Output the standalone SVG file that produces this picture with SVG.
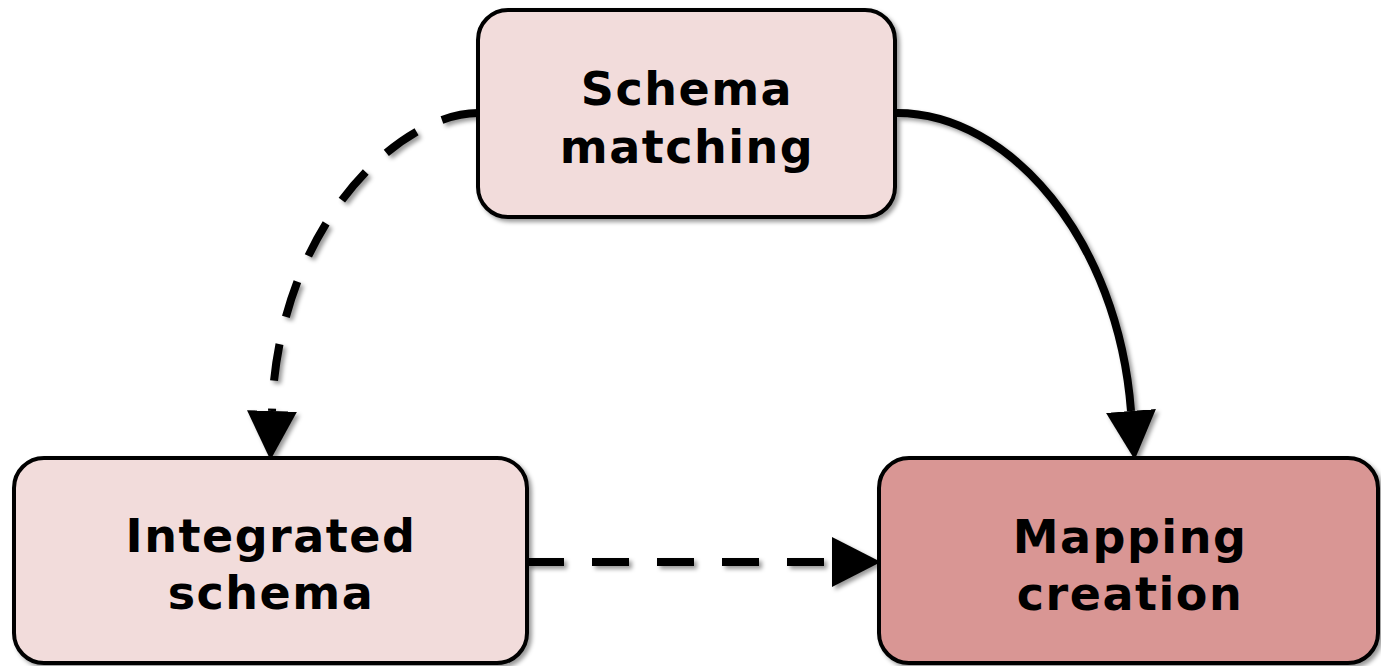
<svg xmlns="http://www.w3.org/2000/svg" width="1381" height="666" viewBox="0 0 1381 666">
  <defs>
    <filter id="shadow" x="-10%" y="-10%" width="130%" height="130%">
      <feDropShadow dx="3" dy="3" stdDeviation="2" flood-color="#000" flood-opacity="0.4"/>
    </filter>
    <!-- arrowhead: base sits on the path end, tip extends 45px beyond -->
    <marker id="head" markerUnits="userSpaceOnUse" markerWidth="50" markerHeight="50" refX="0" refY="23" orient="auto" viewBox="0 0 46 46">
      <path d="M0,0 L45,23 L0,46 Z" fill="#000"/>
    </marker>
    <style>
      .box { stroke: #000; stroke-width: 4; }
      .light { fill: #f2dcdb; }
      .dark { fill: #d99694; }
      .label { font-family: "DejaVu Sans", Verdana, sans-serif; font-weight: bold; font-size: 46px; letter-spacing: 1.5px; fill: #000; text-anchor: middle; }
      .edge { fill: none; stroke: #000; stroke-width: 8; }
      .dashed { stroke-dasharray: 37 28; }
    </style>
  </defs>
  <rect width="1381" height="666" fill="#fff"/>

  <g id="connectors" filter="url(#shadow)">
    <path class="edge dashed" d="M478,113 C400,113 278,225 272,411" marker-end="url(#head)"/>
    <path class="edge" d="M897,113 C1010,113 1118,240 1131,411" marker-end="url(#head)"/>
    <path class="edge dashed" d="M527,562 L832,562" marker-end="url(#head)"/>
  </g>

  <g id="schema-matching">
    <rect class="box light" x="478" y="10" width="417" height="207" rx="30" filter="url(#shadow)"/>
    <text class="label" x="687" y="105">Schema</text>
    <text class="label" x="687" y="163">matching</text>
  </g>

  <g id="integrated-schema">
    <rect class="box light" x="14" y="458" width="513" height="205" rx="30" filter="url(#shadow)"/>
    <text class="label" x="271" y="552">Integrated</text>
    <text class="label" x="271" y="609">schema</text>
  </g>

  <g id="mapping-creation">
    <rect class="box dark" x="879" y="458" width="499" height="205" rx="30" filter="url(#shadow)"/>
    <text class="label" x="1130" y="553">Mapping</text>
    <text class="label" x="1130" y="610">creation</text>
  </g>
</svg>
